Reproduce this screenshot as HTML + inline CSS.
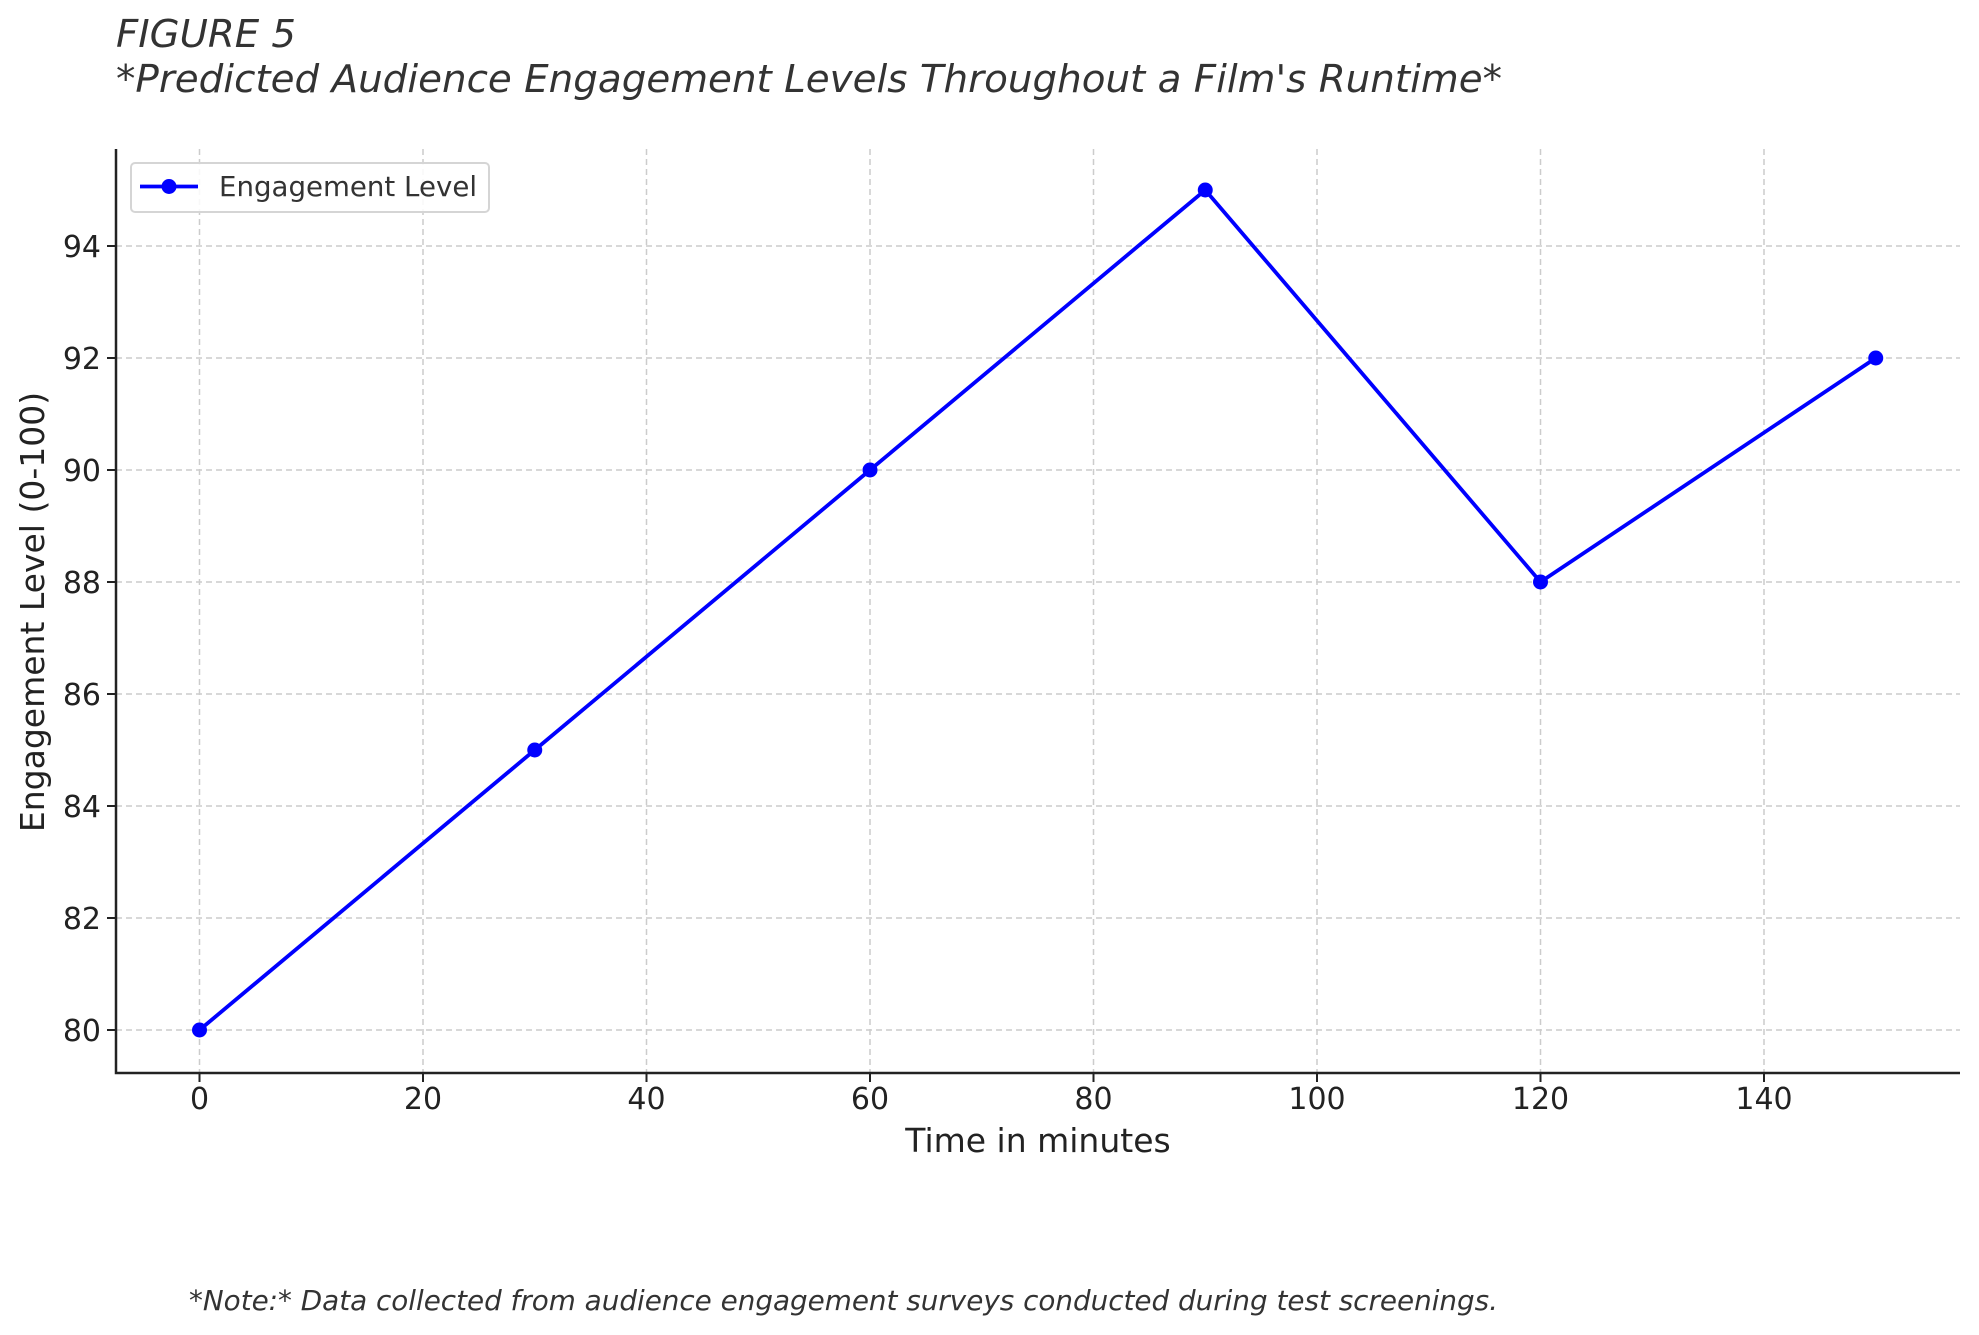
<!DOCTYPE html>
<html><head><meta charset="utf-8"><style>
html,body{margin:0;padding:0;background:#fff;}
svg{display:block;}
text{font-family:"DejaVu Sans","Liberation Sans",sans-serif;}
</style></head><body>
<svg width="1979" height="1335" viewBox="0 0 1979 1335" xmlns="http://www.w3.org/2000/svg">
<text x="116" y="47" font-size="38.5" font-style="italic" fill="#333" textLength="180" lengthAdjust="spacingAndGlyphs">FIGURE 5</text>
<text x="116" y="92" font-size="38.5" font-style="italic" fill="#333" textLength="1386" lengthAdjust="spacingAndGlyphs">*Predicted Audience Engagement Levels Throughout a Film's Runtime*</text>
<g stroke="#cccccc" stroke-width="1.5" stroke-dasharray="6,4">
<line x1="199.5" y1="149" x2="199.5" y2="1073"/>
<line x1="423" y1="149" x2="423" y2="1073"/>
<line x1="646.5" y1="149" x2="646.5" y2="1073"/>
<line x1="870" y1="149" x2="870" y2="1073"/>
<line x1="1093.5" y1="149" x2="1093.5" y2="1073"/>
<line x1="1317" y1="149" x2="1317" y2="1073"/>
<line x1="1540.5" y1="149" x2="1540.5" y2="1073"/>
<line x1="1764" y1="149" x2="1764" y2="1073"/>
<line x1="116" y1="1030" x2="1960" y2="1030"/>
<line x1="116" y1="918" x2="1960" y2="918"/>
<line x1="116" y1="806" x2="1960" y2="806"/>
<line x1="116" y1="694" x2="1960" y2="694"/>
<line x1="116" y1="582" x2="1960" y2="582"/>
<line x1="116" y1="470" x2="1960" y2="470"/>
<line x1="116" y1="358" x2="1960" y2="358"/>
<line x1="116" y1="246" x2="1960" y2="246"/>
</g>
<g stroke="#222" stroke-width="2.5" fill="none">
<path d="M116 149 V1073 H1960"/>
</g>
<g stroke="#222" stroke-width="2">
<line x1="199.5" y1="1073" x2="199.5" y2="1082"/><line x1="423" y1="1073" x2="423" y2="1082"/>
<line x1="646.5" y1="1073" x2="646.5" y2="1082"/><line x1="870" y1="1073" x2="870" y2="1082"/>
<line x1="1093.5" y1="1073" x2="1093.5" y2="1082"/><line x1="1317" y1="1073" x2="1317" y2="1082"/>
<line x1="1540.5" y1="1073" x2="1540.5" y2="1082"/><line x1="1764" y1="1073" x2="1764" y2="1082"/>
<line x1="107" y1="1030" x2="116" y2="1030"/><line x1="107" y1="918" x2="116" y2="918"/>
<line x1="107" y1="806" x2="116" y2="806"/><line x1="107" y1="694" x2="116" y2="694"/>
<line x1="107" y1="582" x2="116" y2="582"/><line x1="107" y1="470" x2="116" y2="470"/>
<line x1="107" y1="358" x2="116" y2="358"/><line x1="107" y1="246" x2="116" y2="246"/>
</g>
<g font-size="30" fill="#222" text-anchor="middle">
<text x="199.5" y="1109">0</text><text x="423" y="1109">20</text><text x="646.5" y="1109">40</text>
<text x="870" y="1109">60</text><text x="1093.5" y="1109">80</text><text x="1317" y="1109">100</text>
<text x="1540.5" y="1109">120</text><text x="1764" y="1109">140</text>
</g>
<g font-size="30" fill="#222" text-anchor="end">
<text x="101" y="1041">80</text><text x="101" y="929">82</text><text x="101" y="817">84</text>
<text x="101" y="705">86</text><text x="101" y="593">88</text><text x="101" y="481">90</text>
<text x="101" y="369">92</text><text x="101" y="257">94</text>
</g>
<text x="1038" y="1152" font-size="33" fill="#222" text-anchor="middle">Time in minutes</text>
<text transform="translate(44,612) rotate(-90)" font-size="33" fill="#222" text-anchor="middle">Engagement Level (0-100)</text>
<polyline points="199.5,1030 534.75,750 870,470 1205.25,190 1540.5,582 1875.75,358" fill="none" stroke="#0000ff" stroke-width="3.8"/>
<g fill="#0000ff">
<circle cx="199.5" cy="1030" r="7.5"/><circle cx="534.75" cy="750" r="7.5"/><circle cx="870" cy="470" r="7.5"/>
<circle cx="1205.25" cy="190" r="7.5"/><circle cx="1540.5" cy="582" r="7.5"/><circle cx="1875.75" cy="358" r="7.5"/>
</g>
<rect x="131" y="163" width="358" height="49" rx="4" fill="#fff" fill-opacity="0.85" stroke="#d5d5d5" stroke-width="2"/>
<line x1="140" y1="186.5" x2="198" y2="186.5" stroke="#0000ff" stroke-width="3.8"/>
<circle cx="169" cy="186.5" r="7.5" fill="#0000ff"/>
<text x="219" y="196" font-size="28" fill="#333" textLength="258" lengthAdjust="spacingAndGlyphs">Engagement Level</text>
<text x="189" y="1310" font-size="28" font-style="italic" fill="#333" textLength="1309" lengthAdjust="spacingAndGlyphs">*Note:* Data collected from audience engagement surveys conducted during test screenings.</text>
</svg>
</body></html>
